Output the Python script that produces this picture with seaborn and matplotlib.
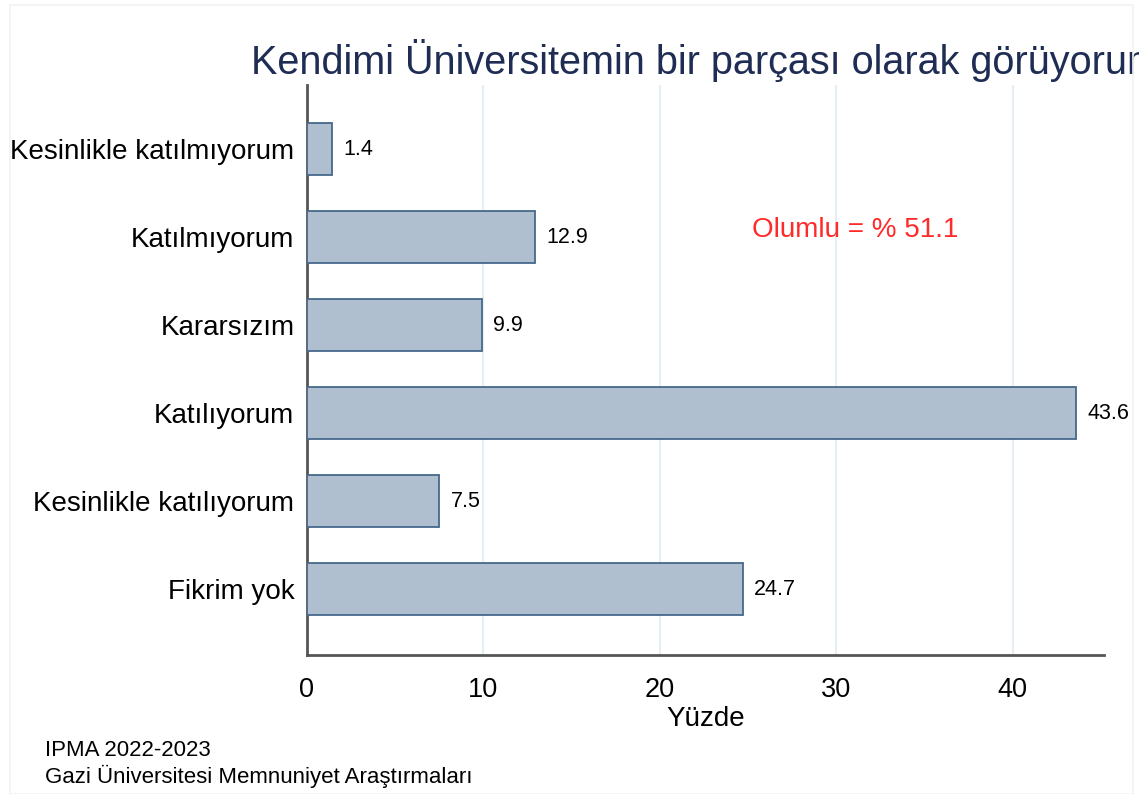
import seaborn as sns
import pandas as pd
import matplotlib
matplotlib.use("Agg")
import matplotlib.pyplot as plt
from matplotlib.patches import Rectangle

categories = ["Kesinlikle katılmıyorum", "Katılmıyorum", "Kararsızım",
              "Katılıyorum", "Kesinlikle katılıyorum", "Fikrim yok"]
values = [1.4, 12.9, 9.9, 43.6, 7.5, 24.7]
xticks = [0, 10, 20, 30, 40]
title = "Kendimi Üniversitemin bir parçası olarak görüyorum"
note = "Olumlu = % 51.1"
footer = ["IPMA 2022-2023", "Gazi Üniversitesi Memnuniyet Araştırmaları"]

sns.set_style("white")
plt.rcParams['font.family'] = ['Liberation Sans', 'DejaVu Sans']
plt.rcParams['text.color'] = 'black'
plt.rcParams['xtick.labelcolor'] = 'black'
plt.rcParams['ytick.labelcolor'] = 'black'

df = pd.DataFrame({"kategori": categories, "yuzde": values})

fig = plt.figure(figsize=(11.39, 7.94), dpi=100)
ax = fig.add_axes([0.2695, 0.175, 0.6995, 0.718])

sns.barplot(data=df, y="kategori", x="yuzde", order=categories, orient="h",
            color="#afbfcf", saturation=1, width=0.59,
            edgecolor="#46688a", linewidth=1.3, ax=ax, zorder=3)

# value labels
for i, v in enumerate(values):
    ax.text(v + 0.65, i, f"{v:.1f}", va="center", ha="left", fontsize=15.5, color="black")

ax.text(25.2, 0.92, note, color="#ff2a2a", fontsize=20, va="center", ha="left")

ax.set_xlim(0, 45.15)
ax.set_ylim(5.75, -0.73)
ax.set_xticks(xticks)
ax.set_xticklabels([str(t) for t in xticks], fontsize=19.5)
ax.tick_params(axis="x", length=8, width=1.5, color="#444444", pad=8)
ax.tick_params(axis="y", length=0, pad=9, labelsize=20)
ax.grid(axis="x", color="#e6eef3", lw=1.5, zorder=0)
ax.grid(axis="y", visible=False)
for s in ["top", "right"]:
    ax.spines[s].set_visible(False)
for s in ["left", "bottom"]:
    ax.spines[s].set_color("#555555")
    ax.spines[s].set_linewidth(2)
ax.set_ylabel("")
ax.set_xlabel("Yüzde", fontsize=20, labelpad=0, color="black")
ax.xaxis.set_label_coords(0.5, -0.09)

# title is wider than the figure, cut at the right edge as in the original
ax.set_title(title, fontsize=28.5, color="#1f2d55", pad=8)

fig.text(45 / 1139, 1 - 751 / 794, footer[0], fontsize=16, va="center", ha="left")
fig.text(45 / 1139, 1 - 776 / 794, footer[1], fontsize=16, va="center", ha="left")

fig.patches.append(Rectangle((10 / 1139, 0.0), 1123 / 1139, 1 - 5 / 794, transform=fig.transFigure,
                             fill=False, edgecolor="#f2f2f2", lw=1.2))

fig.savefig("out.png", dpi=100)
